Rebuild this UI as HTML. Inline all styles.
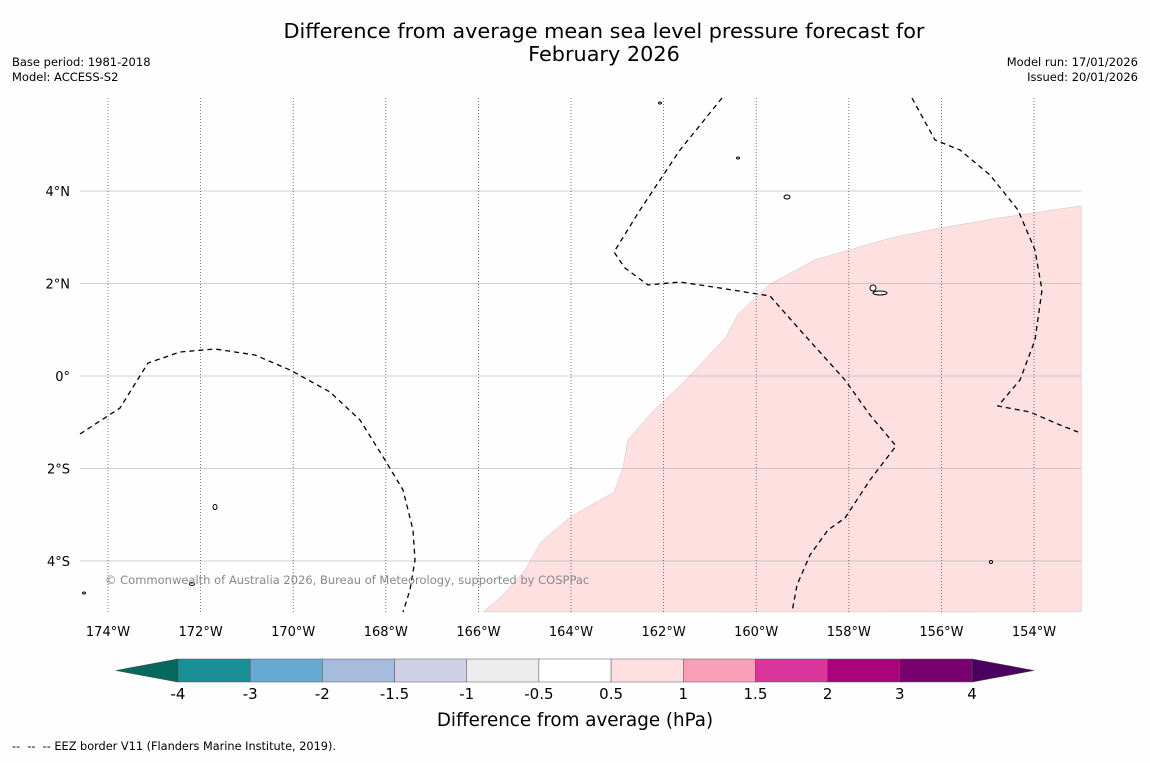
<!DOCTYPE html>
<html><head><meta charset="utf-8"><style>
body{margin:0;background:#fefefe;font-family:"Liberation Sans","DejaVu Sans",sans-serif;}
svg text{font-family:"DejaVu Sans","Liberation Sans",sans-serif;}
</style></head><body>
<svg id="c" width="1150" height="758" xmlns="http://www.w3.org/2000/svg">
<rect width="1150" height="758" fill="#fefefe"/>
<text x="604" y="38" text-anchor="middle" font-size="20.8">Difference from average mean sea level pressure forecast for</text>
<text x="604" y="61" text-anchor="middle" font-size="20.8">February 2026</text>
<text x="12" y="66" font-size="11.5">Base period: 1981-2018</text>
<text x="12" y="81" font-size="11.5">Model: ACCESS-S2</text>
<text x="1138" y="66" font-size="11.5" text-anchor="end">Model run: 17/01/2026</text>
<text x="1138" y="81" font-size="11.5" text-anchor="end">Issued: 20/01/2026</text>
<g id="map"></g>
<g id="cbar"></g>
<text x="575" y="726" text-anchor="middle" font-size="18.3">Difference from average (hPa)</text>
<text x="12" y="750" font-size="11.3">--&#160;&#160;--&#160;&#160;-- EEZ border V11 (Flanders Marine Institute, 2019).</text>
</svg>
<script>
const lonTicks=[-174,-172,-170,-168,-166,-164,-162,-160,-158,-156,-154];
const latTicks=[4,2,0,-2,-4];
const posLon=[-165.90,-165.47,-164.99,-164.65,-164.02,-163.07,-162.88,-162.77,-162.27,-161.58,-160.67,-160.39,-159.70,-158.73,-157.11,-156.03,-154.73,-152.98];
const posLat=[-5.10,-4.74,-4.19,-3.59,-3.05,-2.51,-1.99,-1.38,-0.80,-0.15,0.82,1.34,1.99,2.51,2.98,3.20,3.42,3.68];
const cbLevels=["-4","-3","-2","-1.5","-1","-0.5","0.5","1","1.5","2","3","4"];
const cbColors=["#1a8f96","#66aad2","#a7bcdc","#d1d1e6","#ececef","#ffffff","#fde0df","#f99fb7","#d9359a","#a9037c","#78006f"];
const NS="http://www.w3.org/2000/svg";
const X0=80,X1=1081,Y0=98,Y1=612;
const xS=lon=>108+(lon+174)*46.3;
const yS=lat=>376-lat*46.25;
const map=document.getElementById('map');
function el(t,a,p){const e=document.createElementNS(NS,t);for(const k in a)e.setAttribute(k,a[k]);(p||map).appendChild(e);return e;}
let d=posLon.map((l,i)=>(i?'L':'M')+xS(l).toFixed(1)+','+yS(posLat[i]).toFixed(1)).join(' ');
d+=` L${xS(-152.98)},${yS(-5.10)} Z`;
const reg=el('path',{d:d,fill:'#fde0df',stroke:'#bbb','stroke-width':0.4});


latTicks.forEach(l=>{
 const g=el('line',{x1:X0,x2:X1,y1:yS(l),y2:yS(l),stroke:'#bdbdbd','stroke-width':0.8});
 
 
 const t=el('text',{x:70,y:yS(l)+5,'text-anchor':'end','font-size':13});
 t.textContent=l===0?'0°':Math.abs(l)+'°'+(l>0?'N':'S');
 
 
});
lonTicks.forEach(l=>{
 const g=el('line',{x1:xS(l),x2:xS(l),y1:Y0,y2:Y1,stroke:'#555','stroke-width':0.8,'stroke-dasharray':'1,2'});
 
 
 const t=el('text',{x:xS(l),y:636,'text-anchor':'middle','font-size':13});
 t.textContent=Math.abs(l)+'°W';
 
 
});
const eez=[
"M80,434 L120,408 L148,363 L180,352 L215,349 L255,355 L290,370 L330,392 L360,420 L385,460 L403,490 L413,530 L415,560 L410,590 L403,612",
"M722,98 L680,150 L640,210 L614,252 L625,268 L648,285 L680,282 L720,288 L770,296 L800,330 L845,380 L870,415 L896,446 L870,480 L845,518 L828,530 L810,555 L797,585 L792,612",
"M912,98 L935,140 L960,150 L990,175 L1018,210 L1035,250 L1042,290 L1035,340 L1020,380 L998,406 L1030,412 L1060,425 L1078,432"];
eez.forEach(p=>{const e=el('path',{d:p,fill:'none',stroke:'#000','stroke-width':1.3,'stroke-dasharray':'5,4'});
 
 });
[[215,507,2,2.5],[192,584,2.5,1.5],[787,197,3,2],[873,288,3,3],[880,293,7,2],[738,158,1.5,1],[660,103,1.5,1],[991,562,1.5,1.5],[84,593,1.5,1]].forEach(a=>{
 const e=el('ellipse',{cx:a[0],cy:a[1],rx:a[2],ry:a[3],fill:'#fff',stroke:'#000','stroke-width':1});
 
 });
const cr=el('text',{x:105,y:584,'font-size':11.5,fill:'#888'});
cr.textContent='© Commonwealth of Australia 2026, Bureau of Meteorology, supported by COSPPac';


const cb=document.getElementById('cbar');
const cx0=178,cw=(972-178)/cbColors.length,cy0=659,cy1=682;
const lt=el('polygon',{points:`116,670.5 ${cx0},${cy0} ${cx0},${cy1}`,fill:'#05695d',stroke:'#444','stroke-width':0.6},cb);


const rt=el('polygon',{points:`1034,670.5 972,${cy0} 972,${cy1}`,fill:'#4a005e',stroke:'#444','stroke-width':0.6},cb);


cbColors.forEach((c,i)=>{const r=el('rect',{x:cx0+i*cw,y:cy0,width:cw,height:cy1-cy0,fill:c,stroke:'#555','stroke-width':0.5},cb);
 
 });
cbLevels.forEach((s,i)=>{const t=el('text',{x:cx0+i*cw,y:699,'text-anchor':'middle','font-size':15},cb);t.textContent=s;
 
 });
</script>
</body></html>
